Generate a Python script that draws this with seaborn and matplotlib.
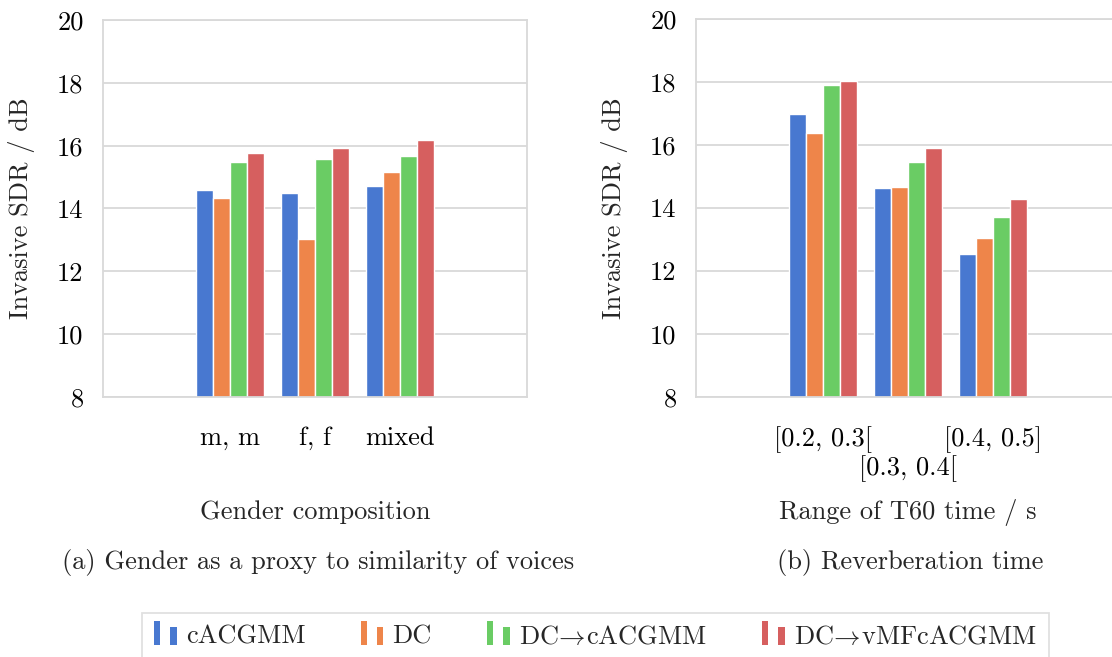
import matplotlib
matplotlib.use("Agg")
import matplotlib.pyplot as plt
import matplotlib.transforms as mtransforms
from matplotlib.patches import Patch, Rectangle
from matplotlib.legend_handler import HandlerBase
import seaborn as sns
import pandas as pd

# ---- data ----
methods = ["cACGMM", "DC", r"DC$\!\rightarrow\!$cACGMM", r"DC$\!\rightarrow\!$vMFcACGMM"]

gender_cats = ["m, m", "f, f", "mixed"]
gender_cacgmm = [14.58, 14.49, 14.72]
gender_dc = [14.35, 13.04, 15.17]
gender_dc_cacgmm = [15.48, 15.58, 15.68]
gender_dc_vmf = [15.78, 15.92, 16.17]

t60_cats = ["[0.2, 0.3[", "[0.3, 0.4[", "[0.4, 0.5]"]
t60_cacgmm = [17.00, 14.64, 12.55]
t60_dc = [16.39, 14.66, 13.06]
t60_dc_cacgmm = [17.89, 15.45, 13.71]
t60_dc_vmf = [18.04, 15.89, 14.30]

y_ticks = [8, 10, 12, 14, 16, 18, 20]

ylabel = "Invasive SDR / dB"
xlabel_a = "Gender composition"
xlabel_b = "Range of T60 time / s"
caption_a = "(a) Gender as a proxy to similarity of voices"
caption_b = "(b) Reverberation time"


def long_df(cats, series):
    rows = []
    for m, vals in zip(methods, series):
        for c, v in zip(cats, vals):
            rows.append({"cat": c, "method": m, "val": v})
    return pd.DataFrame(rows)


df_a = long_df(gender_cats, [gender_cacgmm, gender_dc, gender_dc_cacgmm, gender_dc_vmf])
df_b = long_df(t60_cats, [t60_cacgmm, t60_dc, t60_dc_cacgmm, t60_dc_vmf])

# ---- style ----
sns.set_theme(style="whitegrid")
palette = sns.color_palette("muted", 4)
plt.rcParams["font.family"] = "serif"
plt.rcParams["font.serif"] = ["cmr10", "DejaVu Serif"]
plt.rcParams["mathtext.fontset"] = "cm"
plt.rcParams["axes.formatter.use_mathtext"] = True
plt.rcParams["axes.unicode_minus"] = False

FS = 19
grid_c = "#d9d9d9"

fig = plt.figure(figsize=(11.12, 6.57), dpi=100)
W, H = 1112, 657


def px_axes(x0, y0, x1, y1):
    return fig.add_axes([x0 / W, 1 - y1 / H, (x1 - x0) / W, (y1 - y0) / H])


ax_a = px_axes(103, 20, 527, 397)
ax_b = px_axes(696, 19, 1120, 397)

for ax, df, cats in ((ax_a, df_a, gender_cats), (ax_b, df_b, t60_cats)):
    sns.barplot(data=df, x="cat", y="val", hue="method", order=cats,
                hue_order=methods, palette=palette, saturation=1,
                edgecolor="white", linewidth=1.0, width=0.8, ax=ax,
                legend=False, errorbar=None)
    ax.set_xlim(-1.5, 3.5)
    ax.set_ylim(8, 20)
    ax.set_yticks(y_ticks)
    ax.set_yticklabels([str(t) for t in y_ticks])
    ax.grid(axis="y", color=grid_c, linewidth=1.3)
    ax.grid(axis="x", visible=False)
    ax.set_axisbelow(True)
    for s in ax.spines.values():
        s.set_color(grid_c)
        s.set_linewidth(1.3)
        s.set_visible(True)
    ax.tick_params(axis="both", length=0, labelsize=FS, colors="black")
    ax.tick_params(axis="y", pad=14)
    ax.tick_params(axis="x", pad=21)
    ax.set_ylabel(ylabel, fontsize=FS)
    ax.set_xlabel("")

ax_a.yaxis.set_label_coords((22 - 103) / 424, 0.5)
ax_b.yaxis.set_label_coords((614 - 696) / 424, 0.5)
for ax in (ax_a, ax_b):
    ax.yaxis.label.set_verticalalignment("center")

ax_a.set_xlabel(xlabel_a, fontsize=FS)
ax_b.set_xlabel(xlabel_b, fontsize=FS)
for ax in (ax_a, ax_b):
    ax.xaxis.set_label_coords(0.5, (397 - 512) / 377)
    ax.xaxis.label.set_verticalalignment("center")

# stagger middle tick label on right plot
lbls = ax_b.get_xticklabels()
off = mtransforms.ScaledTranslation(0, -29 / 100, fig.dpi_scale_trans)
lbls[1].set_transform(lbls[1].get_transform() + off)

fig.text(318 / W, 1 - 563 / H, caption_a, fontsize=FS, ha="center", va="center")
fig.text(910 / W, 1 - 563 / H, caption_b, fontsize=FS, ha="center", va="center")


class TwoBarHandler(HandlerBase):
    def create_artists(self, legend, orig_handle, xdescent, ydescent,
                       width, height, fontsize, trans):
        c = orig_handle.get_facecolor()
        bw = width * 0.28
        r1 = Rectangle((-xdescent, -ydescent - 2), bw, height * 1.55,
                       facecolor=c, edgecolor="none", transform=trans)
        r2 = Rectangle((-xdescent + width - bw, -ydescent - 2), bw, height * 1.15,
                       facecolor=c, edgecolor="none", transform=trans)
        return [r1, r2]


handles = [Patch(facecolor=palette[i]) for i in range(4)]
leg = fig.legend(handles, methods, loc="center", bbox_to_anchor=(595.5 / W, 1 - 637 / H),
                 ncol=4, fontsize=FS, frameon=True, fancybox=False,
                 handlelength=0.85, handleheight=0.55, handletextpad=0.35,
                 columnspacing=2.1, borderpad=0.45,
                 handler_map={Patch: TwoBarHandler()})
leg.get_frame().set_edgecolor(grid_c)
leg.get_frame().set_linewidth(1.3)

fig.savefig("out.png", dpi=100, facecolor="white")
